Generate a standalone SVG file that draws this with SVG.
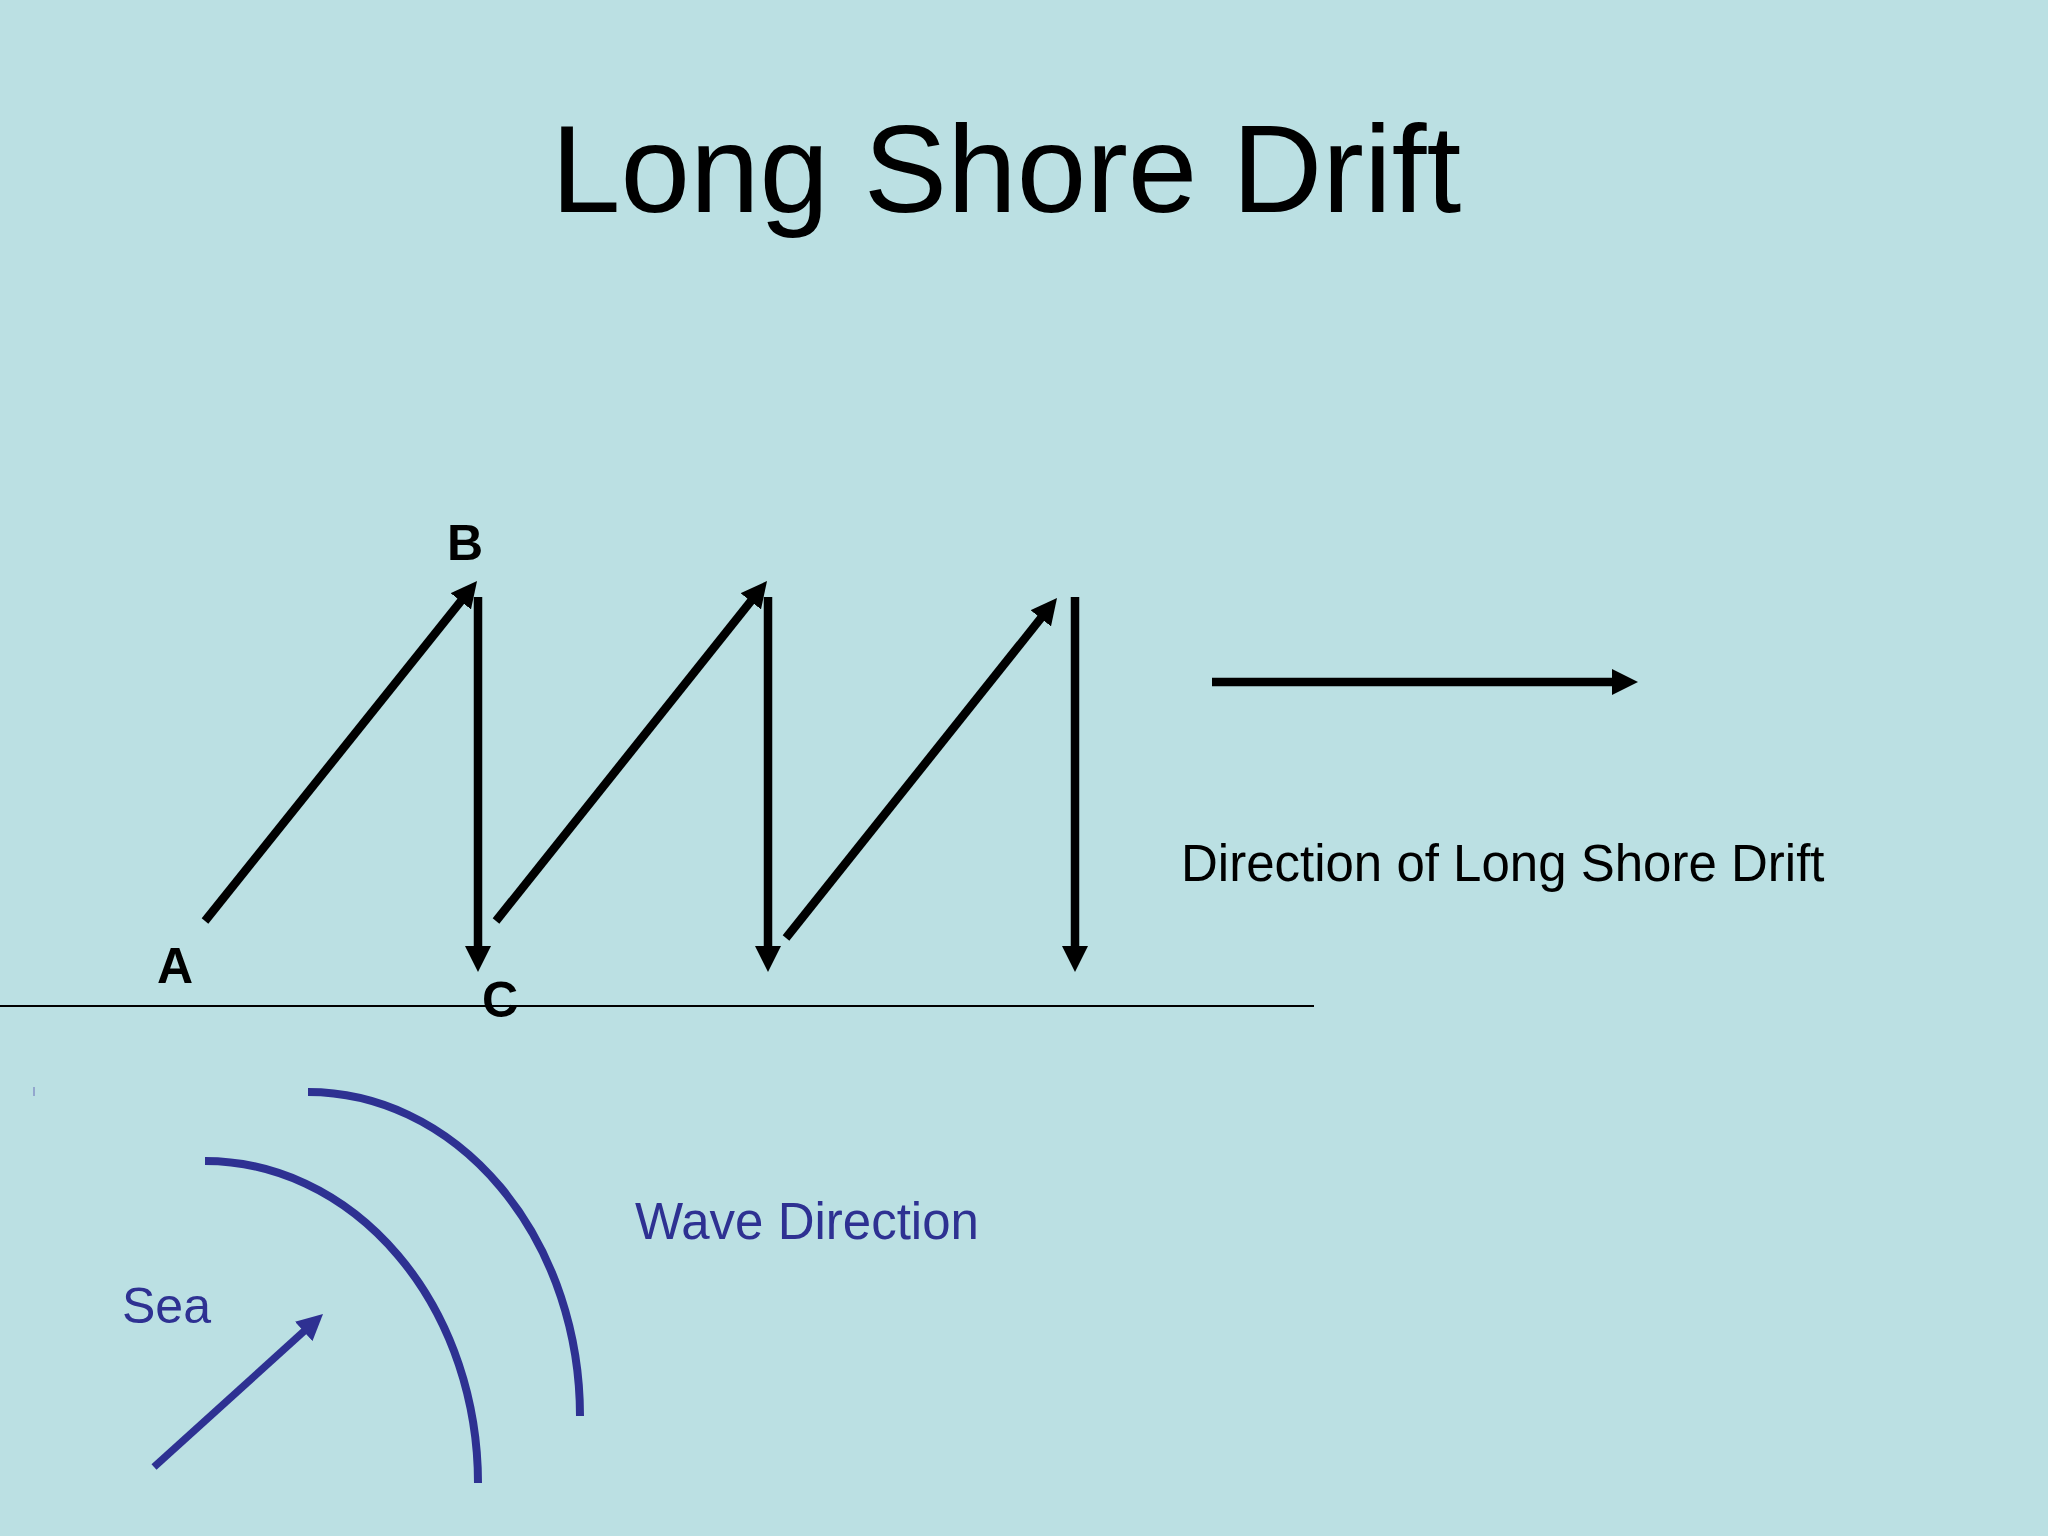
<svg xmlns="http://www.w3.org/2000/svg" width="2048" height="1536" viewBox="0 0 2048 1536">
  <defs>
    <marker id="ah" markerUnits="userSpaceOnUse" viewBox="0 0 26 26" markerWidth="26" markerHeight="26" refX="4" refY="13" orient="auto">
      <path d="M0,0 L26,13 L0,26 z" fill="#000"/>
    </marker>
    <marker id="ahb" markerUnits="userSpaceOnUse" viewBox="0 0 26 26" markerWidth="26" markerHeight="26" refX="4" refY="13" orient="auto">
      <path d="M0,0 L26,13 L0,26 z" fill="#2E3192"/>
    </marker>
    <style>
      .t { font-family: "Liberation Sans", Arial, sans-serif; }
      .lbl { font-family: "Liberation Sans", Arial, sans-serif; font-weight: bold; font-size: 50px; fill: #000; }
      .blue { fill: #2E3192; }
      .arr { stroke: #000; stroke-width: 8.5; fill: none; marker-end: url(#ah); }
      .wave { stroke: #2E3192; stroke-width: 8; fill: none; }
    </style>
  </defs>
  <rect width="2048" height="1536" fill="#BBE0E3"/>
  <text id="title" class="t" x="551" y="212" font-size="125" fill="#000">Long Shore Drift</text>

  <g id="connectors">
    <line class="arr" x1="205" y1="921" x2="463.3" y2="598.2"/>
    <line class="arr" x1="478" y1="597" x2="478" y2="950"/>
    <line class="arr" x1="496" y1="921" x2="753.3" y2="598.2"/>
    <line class="arr" x1="768" y1="597" x2="768" y2="950"/>
    <line class="arr" x1="786" y1="938" x2="1043.3" y2="615.2"/>
    <line class="arr" x1="1075" y1="597" x2="1075" y2="950"/>
    <line class="arr" x1="1212" y1="682" x2="1616" y2="682"/>
    <line x1="154" y1="1467" x2="306.7" y2="1328.8" stroke="#2E3192" stroke-width="7.5" marker-end="url(#ahb)"/>
  </g>

  <g id="shore">
    <line x1="0" y1="1006" x2="1314" y2="1006" stroke="#000" stroke-width="2"/>
  </g>

  <g id="waves">
    <path class="wave" d="M205,1161 A273,322 0 0 1 478,1483"/>
    <path class="wave" d="M308,1092 A272,324 0 0 1 580,1416"/>
    <line x1="34" y1="1087" x2="34" y2="1096" stroke="#6A6FB8" stroke-width="1"/>
  </g>

  <g id="label-A"><text class="lbl" x="157" y="983">A</text></g>
  <g id="label-B"><text class="lbl" x="447" y="560">B</text></g>
  <g id="label-C"><text class="lbl" x="482" y="1017">C</text></g>
  <g id="label-direction"><text class="t" x="1181" y="881" font-size="51" fill="#000">Direction of Long Shore Drift</text></g>
  <g id="label-wave"><text class="t blue" x="635" y="1239" font-size="51">Wave Direction</text></g>
  <g id="label-sea"><text class="t blue" x="122" y="1323" font-size="50">Sea</text></g>
</svg>
